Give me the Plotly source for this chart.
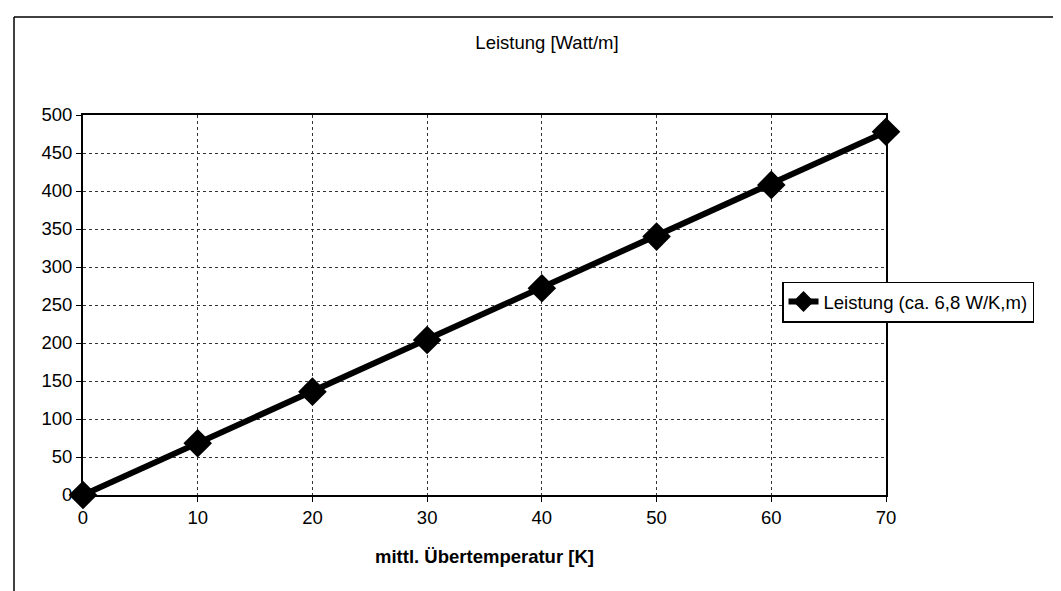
import plotly.graph_objects as go

temps = [0, 10, 20, 30, 40, 50, 60, 70]
leistung = [0, 68, 136, 204, 272, 340, 408, 478]
series_name = "Leistung (ca. 6,8 W/K,m)"
title_text = "Leistung [Watt/m]"
xaxis_title = "mittl. Übertemperatur [K]"

L, R, T, B = 75, 183, 107, 104
W, H = 1061, 591
PW, PH = W - L - R, H - T - B

fig = go.Figure()
fig.add_trace(go.Scatter(
    x=temps, y=leistung, mode="lines+markers", name=series_name,
    line=dict(color="black", width=6),
    marker=dict(symbol="diamond", size=22, color="black"),
    cliponaxis=False,
))

fs = 18.5
fig.update_layout(
    width=W, height=H,
    margin=dict(l=L, r=R, t=T, b=B, autoexpand=False),
    paper_bgcolor="white", plot_bgcolor="white",
    font=dict(family="Liberation Sans, Arial", size=fs, color="black"),
    showlegend=True,
    legend=dict(x=(774 - L) / PW, y=(H - B - 294) / PH, xanchor="left", yanchor="middle",
                bordercolor="black", borderwidth=1.5,
                bgcolor="white", font=dict(size=fs)),
    title=dict(text=title_text, x=539 / W, xref="container", y=1 - 35 / H, yref="container",
               yanchor="middle", xanchor="center", font=dict(size=fs)),
)
grid = dict(showgrid=True, gridcolor="#333", griddash="dot", gridwidth=1,
            showline=True, linecolor="black", linewidth=2, mirror=True,
            ticks="outside", ticklen=5, tickcolor="black", zeroline=False)
fig.update_xaxes(range=[0, 70], tickvals=temps, tickfont=dict(size=fs), **grid)
fig.update_yaxes(range=[0, 500], dtick=50, tickfont=dict(size=fs), **grid)
fig.add_annotation(text="<b>" + xaxis_title + "</b>", xref="paper", yref="paper",
                   x=0.5, y=(H - B - 548) / PH, xanchor="center", yanchor="middle",
                   showarrow=False, font=dict(size=18.5))
# outer frame (left and top edges)
fx0 = (6 - L) / PW
fy0 = (H - B - 9) / PH
fig.add_shape(type="line", xref="paper", yref="paper", x0=fx0, x1=fx0,
              y0=fy0, y1=-B / PH - 0.01, line=dict(color="black", width=1.5))
fig.add_shape(type="line", xref="paper", yref="paper", x0=fx0, x1=1 + R / PW,
              y0=fy0, y1=fy0, line=dict(color="black", width=1.5))
fig.write_html("out.html")
